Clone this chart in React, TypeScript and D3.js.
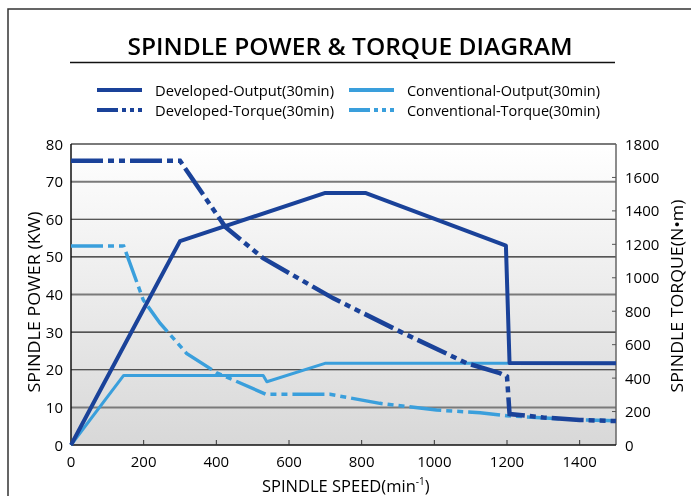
import { useEffect, useRef } from "react";
import * as d3 from "d3";

// values
const speedTicks = [0, 200, 400, 600, 800, 1000, 1200, 1400];
const powerTicks = [0, 10, 20, 30, 40, 50, 60, 70, 80];
const torqueTicks = [0, 200, 400, 600, 800, 1000, 1200, 1400, 1600, 1800];

const devOutput: [number, number][] = [
  [0, 0], [300, 54.2], [700, 67], [810, 67], [1197, 53], [1207, 21.8], [1500, 21.7],
];
const convOutput: [number, number][] = [
  [0, 0], [145, 18.5], [529, 18.5], [539, 16.8], [699, 21.7], [1500, 21.7],
];
const devTorque: [number, number][] = [
  [0, 1700], [300, 1700], [424, 1306], [529, 1117], [722, 877], [906, 678],
  [1089, 489], [1180, 430], [1200, 410], [1207, 185], [1300, 165], [1400, 150], [1500, 143],
];
const convTorque: [number, number][] = [
  [0, 1190], [145, 1190], [199, 867], [245, 728], [318, 548], [401, 432], [537, 303],
  [713, 303], [850, 249], [1006, 209], [1126, 193], [1199, 175], [1401, 150], [1500, 145],
];

const DEV = "#1a4299";
const CONV = "#3a9fdc";
const FONT = "'Open Sans', 'Noto Sans', sans-serif";

export default function App() {
  const ref = useRef<SVGSVGElement>(null);

  useEffect(() => {
    const svg = d3.select(ref.current);
    svg.selectAll("*").remove();

    const left = 71, right = 616, top = 144, bottom = 445;
    const x = d3.scaleLinear().domain([0, 1500]).range([left, right]);
    const yP = d3.scaleLinear().domain([0, 80]).range([bottom, top]);
    const yT = d3.scaleLinear().domain([0, 1800]).range([bottom, top]);

    const defs = svg.append("defs");
    const grad = defs.append("linearGradient").attr("id", "bg").attr("x1", 0).attr("y1", 0).attr("x2", 0).attr("y2", 1);
    grad.append("stop").attr("offset", "0%").attr("stop-color", "#ffffff");
    grad.append("stop").attr("offset", "100%").attr("stop-color", "#d8d8d8");

    // outer frame
    svg.append("rect").attr("x", 8).attr("y", 9).attr("width", 720).attr("height", 520)
      .attr("fill", "none").attr("stroke", "#333").attr("stroke-width", 1.5);

    // title
    svg.append("text").attr("x", 350).attr("y", 55).attr("text-anchor", "middle")
      .attr("font-family", FONT).attr("font-size", 24).attr("font-weight", 600)
      .attr("textLength", 445).attr("lengthAdjust", "spacingAndGlyphs")
      .text("SPINDLE POWER & TORQUE DIAGRAM");
    svg.append("line").attr("x1", 70).attr("x2", 615).attr("y1", 62.5).attr("y2", 62.5)
      .attr("stroke", "#111").attr("stroke-width", 1.5);

    // legend
    const legend = [
      { label: "Developed-Output(30min)", color: DEV, dashed: false, lx: 97, ly: 90, tw: 179 },
      { label: "Developed-Torque(30min)", color: DEV, dashed: true, lx: 97, ly: 110, tw: 179 },
      { label: "Conventional-Output(30min)", color: CONV, dashed: false, lx: 349, ly: 90, tw: 193 },
      { label: "Conventional-Torque(30min)", color: CONV, dashed: true, lx: 349, ly: 110, tw: 193 },
    ];
    legend.forEach((d) => {
      svg.append("line").attr("x1", d.lx).attr("x2", d.lx + 45).attr("y1", d.ly).attr("y2", d.ly)
        .attr("stroke", d.color).attr("stroke-width", 4)
        .attr("stroke-dasharray", d.dashed ? "21,4,4,4,4,4,4,20" : null);
      svg.append("text").attr("x", d.lx + 58).attr("y", d.ly + 5.5)
        .attr("font-family", FONT).attr("font-size", 14.5)
        .attr("textLength", d.tw).attr("lengthAdjust", "spacingAndGlyphs")
        .text(d.label);
    });

    // plot background
    svg.append("rect").attr("x", left).attr("y", top).attr("width", right - left).attr("height", bottom - top)
      .attr("fill", "url(#bg)");

    // gridlines
    powerTicks.filter((t) => t > 0).forEach((t) => {
      const heavy = t % 30 === 10 || t === 80;
      svg.append("line").attr("x1", left).attr("x2", right).attr("y1", yP(t)).attr("y2", yP(t))
        .attr("stroke", heavy ? "#7a7a7a" : "#222").attr("stroke-width", heavy ? 2 : 1.2);
    });

    // frame of plot
    svg.append("line").attr("x1", right).attr("x2", right).attr("y1", top).attr("y2", bottom)
      .attr("stroke", "#666").attr("stroke-width", 1.5);
    svg.append("line").attr("x1", left).attr("x2", left).attr("y1", top).attr("y2", bottom)
      .attr("stroke", "#111").attr("stroke-width", 1.5);
    svg.append("line").attr("x1", left).attr("x2", right).attr("y1", bottom).attr("y2", bottom)
      .attr("stroke", "#111").attr("stroke-width", 1.5);

    // x ticks (inward)
    speedTicks.filter((t) => t > 0).forEach((t) => {
      svg.append("line").attr("x1", x(t)).attr("x2", x(t)).attr("y1", bottom).attr("y2", bottom - 5)
        .attr("stroke", "#333").attr("stroke-width", 1);
    });
    // right ticks (inward)
    torqueTicks.filter((t) => t > 0 && t < 1800).forEach((t) => {
      svg.append("line").attr("x1", right).attr("x2", right - 4).attr("y1", yT(t)).attr("y2", yT(t))
        .attr("stroke", "#555").attr("stroke-width", 1);
    });

    // tick labels
    speedTicks.forEach((t) => {
      svg.append("text").attr("x", x(t)).attr("y", 467).attr("text-anchor", "middle")
        .attr("font-family", FONT).attr("font-size", 15).text(t);
    });
    powerTicks.forEach((t) => {
      svg.append("text").attr("x", 63).attr("y", yP(t) + 5.5).attr("text-anchor", "end")
        .attr("font-family", FONT).attr("font-size", 15).text(t);
    });
    torqueTicks.forEach((t) => {
      svg.append("text").attr("x", 625).attr("y", yT(t) + 5.5).attr("text-anchor", "start")
        .attr("font-family", FONT).attr("font-size", 15).text(t);
    });

    // axis titles
    svg.append("text").attr("transform", "translate(40,302) rotate(-90)").attr("text-anchor", "middle")
      .attr("font-family", FONT).attr("font-size", 16.5)
      .attr("textLength", 181).attr("lengthAdjust", "spacingAndGlyphs")
      .text("SPINDLE POWER (KW)");
    svg.append("text").attr("transform", "translate(683,296) rotate(-90)").attr("text-anchor", "middle")
      .attr("font-family", FONT).attr("font-size", 16.5)
      .attr("textLength", 193).attr("lengthAdjust", "spacingAndGlyphs")
      .text("SPINDLE TORQUE(N\u2022m)");
    const xt = svg.append("text").attr("x", 262).attr("y", 492).attr("text-anchor", "start")
      .attr("font-family", FONT).attr("font-size", 16.5);
    xt.append("tspan").text("SPINDLE SPEED(min");
    xt.append("tspan").attr("font-size", 10).attr("dy", -7).text("-1");
    xt.append("tspan").attr("dy", 7).text(")");

    // series
    const lineP = d3.line<[number, number]>().x((d) => x(d[0])).y((d) => yP(d[1]));
    const lineT = d3.line<[number, number]>().x((d) => x(d[0])).y((d) => yT(d[1]));
    const dash = "32,5,6,5,6,5";

    svg.append("path").attr("d", lineP(convOutput)).attr("fill", "none")
      .attr("stroke", CONV).attr("stroke-width", 3).attr("stroke-linejoin", "round");
    svg.append("path").attr("d", lineT(convTorque)).attr("fill", "none")
      .attr("stroke", CONV).attr("stroke-width", 3.5).attr("stroke-dasharray", dash);
    svg.append("path").attr("d", lineP(devOutput)).attr("fill", "none")
      .attr("stroke", DEV).attr("stroke-width", 4).attr("stroke-linejoin", "round");
    svg.append("path").attr("d", lineT(devTorque)).attr("fill", "none")
      .attr("stroke", DEV).attr("stroke-width", 4.5).attr("stroke-dasharray", dash);
  }, []);

  return (
    <svg
      ref={ref}
      width={691}
      height={496}
      style={{ position: "fixed", left: 0, top: 0, display: "block" }}
    />
  );
}
